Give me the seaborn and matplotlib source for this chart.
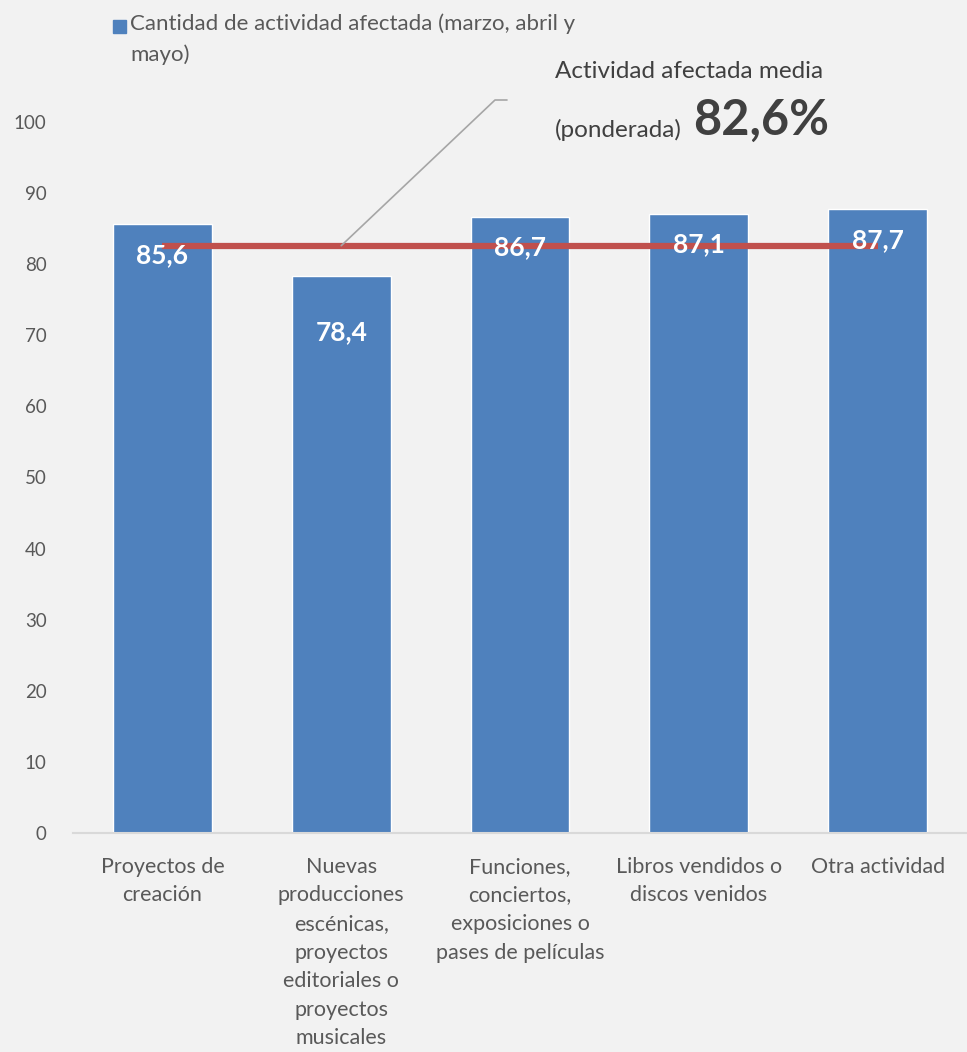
import matplotlib
matplotlib.use("Agg")
import matplotlib.pyplot as plt
import seaborn as sns
import pandas as pd
from matplotlib.lines import Line2D

categories = [
    "Proyectos de\ncreación",
    "Nuevas\nproducciones\nescénicas,\nproyectos\neditoriales o\nproyectos\nmusicales",
    "Funciones,\nconciertos,\nexposiciones o\npases de películas",
    "Libros vendidos o\ndiscos venidos",
    "Otra actividad",
]
values = [85.6, 78.4, 86.7, 87.1, 87.7]
mean_value = 82.6
series_name = "Cantidad de actividad afectada (marzo, abril y\nmayo)"
y_ticks = [0, 10, 20, 30, 40, 50, 60, 70, 80, 90, 100]

BG = "#f2f2f2"
BLUE = "#4f81bd"
RED = "#c0504d"
GRAY_TXT = "#595959"

sns.set_theme(style="white")
plt.rcParams["font.family"] = ["Lato", "DejaVu Sans"]

W, H = 967, 1052
fig = plt.figure(figsize=(W / 100, H / 100), dpi=100, facecolor=BG)
ax_left = 73 / W
ax_bottom = (H - 833) / H
ax_top = (H - 122) / H
ax = fig.add_axes([ax_left, ax_bottom, 1 - ax_left, ax_top - ax_bottom])
ax.set_facecolor(BG)

df = pd.DataFrame({"cat": categories, "val": values})
sns.barplot(data=df, x="cat", y="val", color=BLUE, saturation=1, width=0.553, ax=ax)

ax.set_xlim(-0.5, len(categories) - 0.5)
ax.set_ylim(0, 100)
ax.set_yticks(y_ticks)
ax.set_xlabel("")
ax.set_ylabel("")
for s in ["left", "right", "top"]:
    ax.spines[s].set_visible(False)
ax.spines["bottom"].set_color("#d9d9d9")
ax.spines["bottom"].set_linewidth(1.5)
ax.tick_params(axis="y", length=0, pad=19, labelsize=13.5, labelcolor=GRAY_TXT)
ax.tick_params(axis="x", length=0, pad=17, labelsize=15.5, labelcolor=GRAY_TXT)
for lab in ax.get_xticklabels():
    lab.set_linespacing(1.54)

# mean line
xs = list(range(len(categories)))
ax.plot([xs[0], xs[-1]], [mean_value, mean_value], color=RED, lw=4.5, zorder=3,
        solid_capstyle="butt")

# data labels
label_offsets = [4.3, 8.0, 4.3, 4.3, 4.3]
for x, v, off in zip(xs, values, label_offsets):
    ax.text(x, v - off, f"{v:.1f}".replace(".", ","), ha="center", va="center",
            color="white", fontsize=19, fontweight="bold", zorder=4)

# leader line (figure pixel coordinates)
def fx(px):
    return px / W

def fy(py):
    return (H - py) / H

x_anchor_disp = ax.transData.transform((xs[1], mean_value))
x0f, y0f = fig.transFigure.inverted().transform(x_anchor_disp)
fig.add_artist(Line2D([x0f, fx(495), fx(507)], [y0f, fy(100), fy(100)],
                      color="#a6a6a6", lw=1.2, transform=fig.transFigure))

fig.text(fx(555), fy(72), "Actividad afectada media", ha="left", va="center",
         fontsize=17.5, color="#404040")
fig.text(fx(555), fy(130), "(ponderada)", ha="left", va="center",
         fontsize=17.5, color="#404040")
fig.text(fx(693), fy(120), f"{mean_value:.1f}%".replace(".", ","), ha="left",
         va="center", fontsize=35, fontweight="bold", color="#404040")

# legend
fig.add_artist(plt.Rectangle((fx(113), fy(33)), 13 / W, 13 / H, color=BLUE,
                             transform=fig.transFigure))
fig.text(fx(130), fy(13), series_name, ha="left", va="top",
         fontsize=16, color=GRAY_TXT, linespacing=1.66)

fig.savefig("out.png", dpi=100, facecolor=BG)
